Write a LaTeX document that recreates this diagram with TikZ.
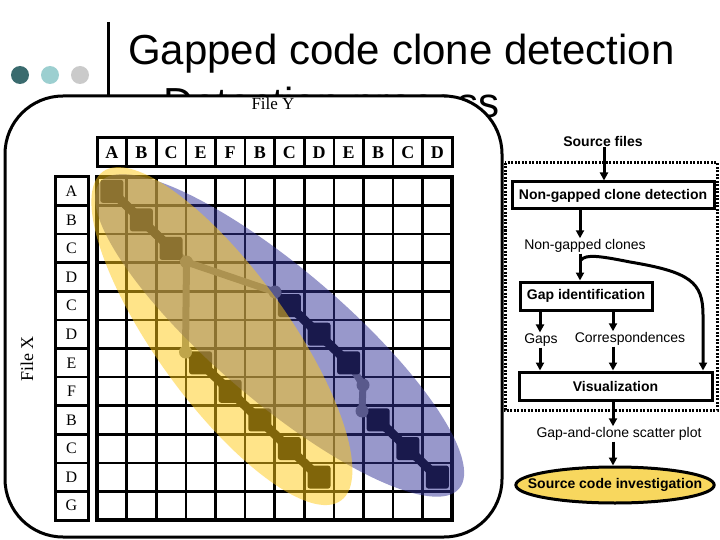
\documentclass[tikz,border=0pt]{standalone}
\usepackage{fontspec}
\setmainfont{Liberation Serif}
\setsansfont{Liberation Sans}
\usetikzlibrary{arrows.meta,shapes.geometric}
\definecolor{tealdark}{HTML}{3A6B6E}
\definecolor{teallight}{HTML}{9CCFD0}
\definecolor{lgray}{HTML}{CACACA}
\definecolor{ybl}{HTML}{FFCB15}
\definecolor{bbl}{HTML}{333399}
\definecolor{gapgray}{HTML}{808080}
\definecolor{goldfill}{HTML}{F8D75E}
\begin{document}
\begin{tikzpicture}[x=1pt,y=-1pt,
  gridln/.style={line width=2.6pt},
  hdr/.style={font=\fontsize{18}{18}\selectfont\bfseries, inner sep=0pt},
  rowlab/.style={font=\fontsize{16}{16}\selectfont, inner sep=0pt},
  sq/.style={rectangle, fill=black, minimum size=23pt, inner sep=0pt, rounded corners=2.5pt},
  gapnode/.style={circle, fill=gapgray, minimum size=13pt, inner sep=0pt},
  link/.style={line width=9pt, black},
  gaplink/.style={line width=7pt, gapgray},
  dot/.style={circle, minimum size=18pt, inner sep=0pt},
  fbox/.style={draw, line width=3pt, fill=white, inner sep=0pt, font=\sffamily\bfseries\fontsize{14}{14}\selectfont},
  flab/.style={font=\sffamily\fontsize{14}{14}\selectfont, inner sep=1pt},
  arr/.style={line width=3pt, -{Triangle[length=8pt,width=8pt]}},
]
\useasboundingbox (0,0) rectangle (720,540);
\fill[white] (0,0) rectangle (720,540);

% title
\node[anchor=base west, inner sep=0pt, font=\sffamily\fontsize{42}{48}\selectfont] (title) at (128,65) {Gapped code clone detection};
\node[anchor=base west, inner sep=0pt, font=\sffamily\fontsize{42}{48}\selectfont] (title2) at (128,118) {– Detection process};
\node[dot, fill=tealdark] (c1) at (20,75) {};
\node[dot, fill=teallight] (c2) at (50,75) {};
\node[dot, fill=lgray] (c3) at (80,75) {};
\draw[line width=3pt] (108,22) -- (108,130);

% big rounded frame
\draw[line width=3pt, fill=white, rounded corners=58pt] (5,96) rectangle (502,537);
\node[font=\fontsize{17}{17}\selectfont, inner sep=0pt] (filey) at (273,104) {File Y};
\node[rotate=90, font=\fontsize{18}{18}\selectfont, inner sep=0pt] (filex) at (27,359) {File X};

% column header
\draw[line width=3pt, fill=white] (97,138) rectangle (452,167);
\foreach \k in {1,...,11} \draw[gridln] ({97+29.6*\k},138) -- ({97+29.6*\k},167);
\foreach \l [count=\k from 0] in {A,B,C,E,F,B,C,D,E,B,C,D}
  \node[hdr] (col\k) at ({97+29.6*(\k+0.5)},153) {\l};

% row header
\draw[line width=3pt, fill=white] (55,177) rectangle (88,520);
\foreach \k in {1,...,11} \draw[gridln] (55,{177+28.58*\k}) -- (88,{177+28.58*\k});
\foreach \l [count=\k from 0] in {A,B,C,D,C,D,E,F,B,C,D,G}
  \node[rowlab] (row\k) at (71.5,{177+28.58*(\k+0.5)}) {\l};

% grid
\fill[white] (97,177) rectangle (452,520);
\foreach \k in {1,...,11} {
  \draw[gridln] (97,{177+28.58*\k}) -- (452,{177+28.58*\k});
  \draw[gridln] ({97+29.6*\k},177) -- ({97+29.6*\k},520);
}
\draw[line width=3.5pt] (97,177) rectangle (452,520);

% chain coordinates
\coordinate (y1) at (111.8,191.3);
\coordinate (y2) at (141.4,219.9);
\coordinate (y3) at (171.0,248.4);
\coordinate (y4) at (200.6,362.8);
\coordinate (y5) at (230.2,391.3);
\coordinate (y6) at (259.8,419.9);
\coordinate (y7) at (289.4,448.5);
\coordinate (y8) at (319.0,477.1);
\coordinate (b1) at (289.4,305.6);
\coordinate (b2) at (319.0,334.2);
\coordinate (b3) at (348.6,362.8);
\coordinate (b4) at (378.2,419.9);
\coordinate (b5) at (407.8,448.5);
\coordinate (b6) at (437.4,477.1);
\coordinate (g1) at (186.5,262);
\coordinate (g2) at (185.5,352);
\coordinate (g3) at (275,292);
\coordinate (g4) at (363,385);
\coordinate (g5) at (362,411);

% gap links
\draw[gaplink] (y3) -- (g1) -- (g2) -- (y4);
\draw[gaplink] (g1) -- (g3) -- (b1);
\draw[gaplink] (b3) -- (g4) -- (g5) -- (b4);
% clone links
\draw[link] (y1) -- (y2) -- (y3);
\draw[link] (y4) -- (y5) -- (y6) -- (y7) -- (y8);
\draw[link] (b1) -- (b2) -- (b3);
\draw[link] (b4) -- (b5) -- (b6);
\foreach \p in {y1,y2,y3,y4,y5,y6,y7,y8,b1,b2,b3,b4,b5,b6}
  \node[sq] (\p s) at (\p) {};
\foreach \p in {g1,g2,g3,g4,g5}
  \node[gapnode] (\p n) at (\p) {};

% ellipses
\fill[bbl, fill opacity=0.5] (279.6,335.4) ellipse [x radius=236pt, y radius=66pt, rotate=-40.5];
\fill[ybl, fill opacity=0.5] (221.9,336.1) ellipse [x radius=203pt, y radius=66pt, rotate=-54.1];

% flowchart
\draw[line width=3pt, dash pattern=on 2pt off 1.5pt] (505,163) rectangle (717,410);
\node[font=\sffamily\bfseries\fontsize{14}{14}\selectfont, inner sep=1pt] (src) at (603,141) {Source files};
\node[fbox, minimum width=202pt, minimum height=27pt] (ngd) at (613,195.5) {Non-gapped clone detection};
\node[flab] (ngc) at (585,246) {Non-gapped clones};
\node[fbox, minimum width=132pt, minimum height=28pt] (gid) at (586,296) {Gap identification};
\node[flab] (gaps) at (541,340) {Gaps};
\node[flab] (corr) at (630,339) {Correspondences};
\node[fbox, minimum width=193pt, minimum height=28pt] (vis) at (615.5,386) {Visualization};
\node[flab] (gcs) at (619,434) {Gap-and-clone scatter plot};
\node[ellipse, draw, line width=3pt, fill=goldfill, inner xsep=-17pt, inner ysep=5pt,
      minimum width=198pt, minimum height=36pt,
      font=\sffamily\bfseries\fontsize{14}{14}\selectfont] (sci) at (615,485) {Source code investigation};

\draw[arr] (604,0 |- src.south) -- (604,0 |- ngd.north);
\draw[arr] (580,0 |- ngd.south) -- (580,0 |- ngc.north);
\draw[arr] (580,0 |- ngc.south) -- (580,0 |- gid.north);
\coordinate (cs) at (581,260);
\draw[arr] (cs) .. controls (586,254) and (600,256) .. (630,262) .. controls (690,272) and (703,282) .. (703,315) -- (703,0 |- vis.north);
\draw[arr] (540,0 |- gid.south) -- (540,0 |- gaps.north);
\draw[arr] (613,0 |- gid.south) -- (613,0 |- corr.north);
\draw[arr] (540,0 |- gaps.south) -- (540,0 |- vis.north);
\draw[arr] (613,0 |- corr.south) -- (613,0 |- vis.north);
\draw[arr] (613,0 |- vis.south) -- (613,0 |- gcs.north);
\draw[arr] (613,0 |- gcs.south) -- (613,0 |- sci.north);
\end{tikzpicture}
\end{document}
